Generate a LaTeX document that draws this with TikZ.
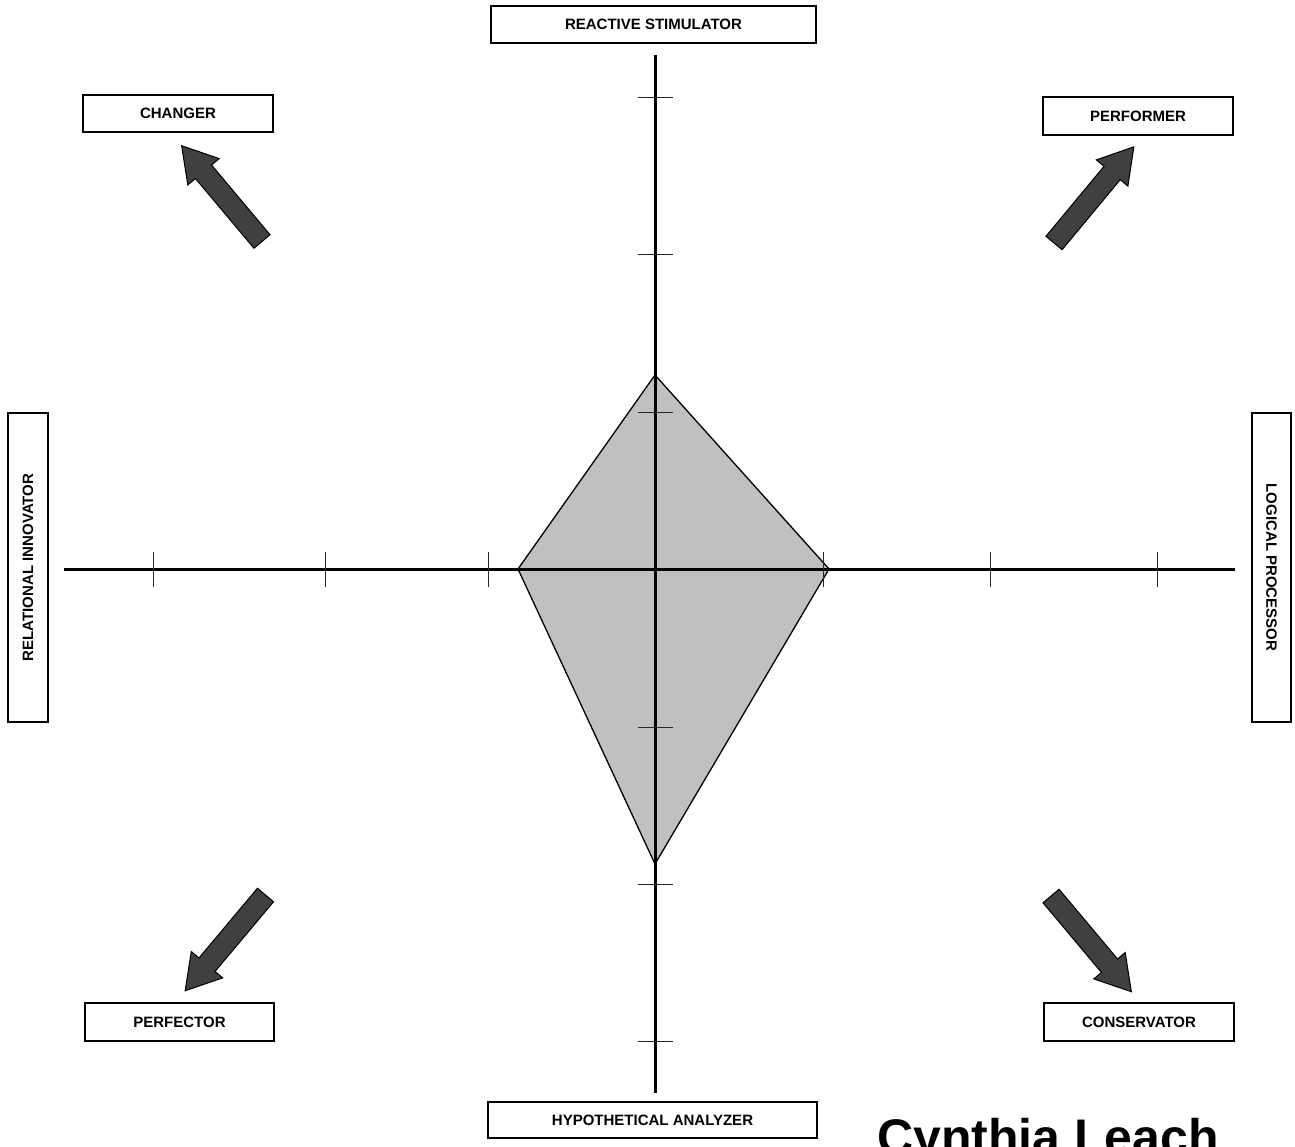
\documentclass[tikz,border=0pt]{standalone}
\usepackage{fontspec}
\setmainfont{Liberation Sans}
\begin{document}
\begin{tikzpicture}[x=1pt,y=-1pt,
  labelbox/.style={draw=black,line width=2.4pt,fill=white,inner sep=0pt,
    font=\fontsize{15}{18}\selectfont\bfseries},
  axisline/.style={line width=3pt,draw=black},
  tickline/.style={line width=1pt,draw=black!85},
  kitefill/.style={fill=kitegray,draw=black,line width=1.3pt,line join=miter},
  arrowfill/.style={fill=arrowgray,draw=black,line width=1pt,line join=miter},
  blockarrow/.pic={\path[arrowfill] (0,-10.5) -- (91,-10.5) -- (91,-20.5) -- (125,0) -- (91,20.5) -- (91,10.5) -- (0,10.5) -- cycle;}
]
\definecolor{kitegray}{HTML}{C0C0C0}
\definecolor{arrowgray}{HTML}{404040}
\path[use as bounding box,clip] (0,0) rectangle (1295,1147);
\fill[white] (0,0) rectangle (1295,1147);

% kite
\coordinate (kt) at (655,375);
\coordinate (kr) at (829,569);
\coordinate (kb) at (655,864);
\coordinate (kl) at (518,569);
\path[kitefill] (kt) -- (kr) -- (kb) -- (kl) -- cycle;

% axes
\coordinate (vtop) at (655,55);
\coordinate (vbot) at (655,1093);
\coordinate (hl) at (64,569);
\coordinate (hr) at (1235,569);
\draw[axisline] (vtop) -- (vbot);
\draw[axisline] (hl) -- (hr);

% ticks
\foreach \y in {98,255,412,727,884,1041}
  \draw[tickline] (638,\y) -- (673,\y);
\foreach \x in {153,325,488,823,990,1157}
  \draw[tickline] (\x,552) -- (\x,587);

% boxes
\node[labelbox,minimum width=325,minimum height=37] (react) at (653.5,24.5) {REACTIVE STIMULATOR};
\node[labelbox,minimum width=329,minimum height=36] (hypo) at (652.5,1120) {HYPOTHETICAL ANALYZER};
\node[labelbox,minimum width=190,minimum height=37] (changer) at (178,113.5) {CHANGER};
\node[labelbox,minimum width=190,minimum height=38] (perf) at (1138,116) {PERFORMER};
\node[labelbox,minimum width=189,minimum height=38] (perfector) at (179.5,1022) {PERFECTOR};
\node[labelbox,minimum width=190,minimum height=38] (cons) at (1139,1022) {CONSERVATOR};
\node[labelbox,minimum width=309,minimum height=40,rotate=90] (rel) at (28,567.5) {RELATIONAL INNOVATOR};
\node[labelbox,minimum width=309,minimum height=39,rotate=-90] (logic) at (1271.5,567.5) {LOGICAL PROCESSOR};

% block arrows
\coordinate (a1) at (262,241.5);
\coordinate (a2) at (1054,243);
\coordinate (a3) at (265.5,895);
\coordinate (a4) at (1051,896);
\pic[rotate=130] at (a1) {blockarrow};
\pic[rotate=50.3] at (a2) {blockarrow};
\pic[rotate=230] at (a3) {blockarrow};
\pic[rotate=-50] at (a4) {blockarrow};

% name
\node[anchor=base west,inner sep=0pt,font=\fontsize{50}{60}\selectfont\bfseries] (name) at (877,1154) {Cynthia Leach};
\end{tikzpicture}
\end{document}
